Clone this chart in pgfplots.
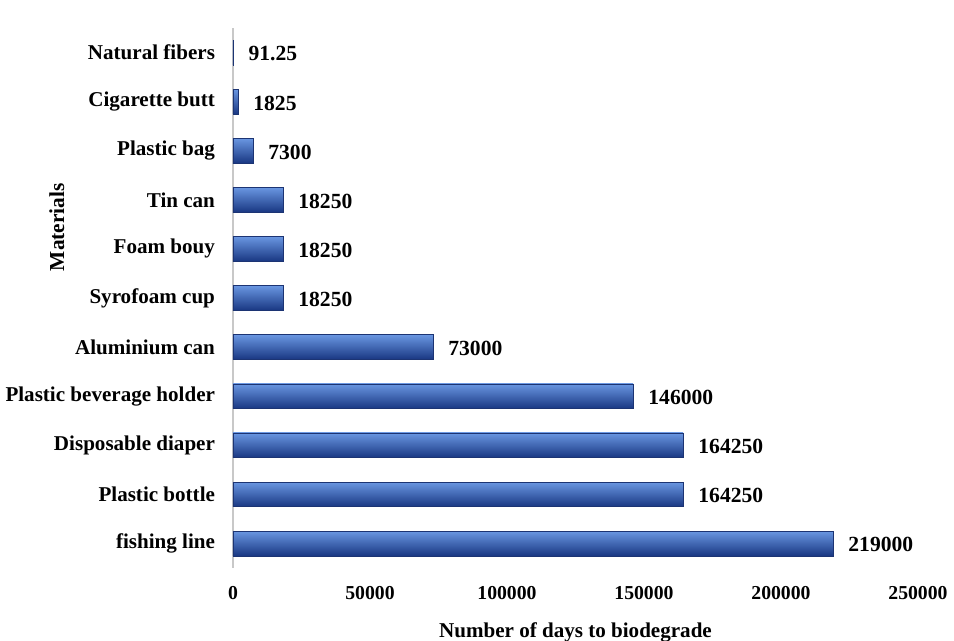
\documentclass[border=0pt]{standalone}
\usepackage{pgfplots}
\pgfplotsset{compat=1.18}
\usepackage{fontspec}
\setmainfont{Liberation Serif}

\definecolor{bartop}{RGB}{105,150,225}
\definecolor{barmid}{RGB}{48,98,200}
\definecolor{barbot}{RGB}{25,55,130}
\definecolor{bardraw}{RGB}{28,52,115}
\definecolor{axisgray}{RGB}{200,200,200}

\pgfplotsset{
  shinybar/.style={draw=bardraw, line width=0.4pt, top color=bartop, middle color=barmid, bottom color=barbot, bar shift=0pt},
}

\begin{document}
\begin{tikzpicture}
\useasboundingbox (-174.75pt,-54.75pt) rectangle (540.75pt,426pt);
\begin{axis}[
  at={(0,0)}, anchor=south west,
  scale only axis,
  width=513.75pt, height=405pt,
  xbar, bar width=18.5pt,
  xmin=0, xmax=250000,
  ymin=-0.5, ymax=10.5,
  axis lines*=left,
  x axis line style={draw=none},
  y axis line style={axisgray, line width=1pt},
  major tick length=0pt,
  scaled x ticks=false,
  /pgf/number format/fixed,
  /pgf/number format/1000 sep={},
  /pgf/number format/assume math mode=true,
  xtick={0,50000,100000,150000,200000,250000},
  xticklabel style={font=\fontsize{14.8}{16}\selectfont\bfseries, yshift=-10pt},
  ytick={0,...,10},
  yticklabels={fishing line, Plastic bottle\hspace{0.35em}, Disposable diaper, Plastic beverage holder, Aluminium can, Syrofoam cup, Foam bouy, Tin can, Plastic bag, Cigarette butt, Natural fibers},
  yticklabel style={font=\fontsize{15.8}{18}\selectfont\bfseries, xshift=-10pt},
  xlabel={Number of days to biodegrade},
  xlabel style={at={(axis description cs:0.5,-0.1185)}, anchor=center, font=\fontsize{15.8}{18}\selectfont\bfseries},
  ylabel={Materials},
  ylabel style={at={(axis description cs:-0.257,0.631)}, anchor=center, font=\fontsize{16}{18}\selectfont\bfseries},
  nodes near coords,
  every node near coord/.append style={font=\fontsize{16.2}{18}\selectfont\bfseries, anchor=west, xshift=8pt, yshift=-1pt, black},
  /pgf/number format/precision=2,
]
\addplot[shinybar] coordinates {(219000,0)};
\addplot[shinybar] coordinates {(164250,1)};
\addplot[shinybar] coordinates {(164250,2)};
\addplot[shinybar] coordinates {(146000,3)};
\addplot[shinybar] coordinates {(73000,4)};
\addplot[shinybar] coordinates {(18250,5)};
\addplot[shinybar] coordinates {(18250,6)};
\addplot[shinybar] coordinates {(18250,7)};
\addplot[shinybar] coordinates {(7300,8)};
\addplot[shinybar] coordinates {(1825,9)};
\addplot[shinybar] coordinates {(91.25,10)};
\end{axis}
\end{tikzpicture}
\end{document}
